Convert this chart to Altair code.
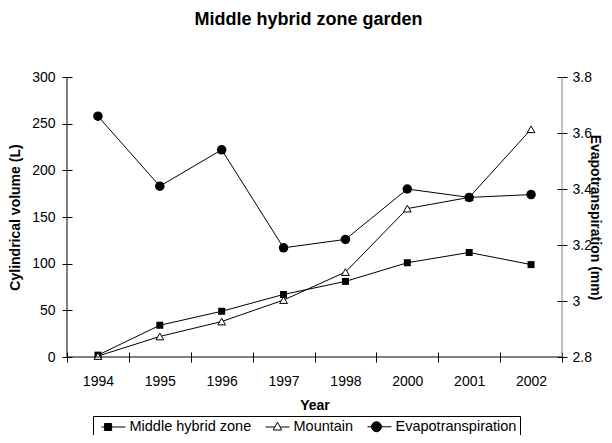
import altair as alt
import pandas as pd

years = ["1994", "1995", "1996", "1997", "1998", "2000", "2001", "2002"]
middle_hybrid = [2, 34, 49, 67, 81, 101, 112, 99]
mountain = [1, 22, 38, 61, 91, 159, 171, 244]
evapo = [3.66, 3.41, 3.54, 3.19, 3.22, 3.40, 3.37, 3.38]
series_names = ["Middle hybrid zone", "Mountain", "Evapotranspiration"]
left_ticks = [0, 50, 100, 150, 200, 250, 300]
right_ticks = [2.8, 3.0, 3.2, 3.4, 3.6, 3.8]

vol = pd.DataFrame({
    "year": years * 2,
    "series": [series_names[0]] * len(years) + [series_names[1]] * len(years),
    "value": middle_hybrid + mountain,
})
et = pd.DataFrame({"year": years, "series": series_names[2], "value": evapo})
allrows = pd.concat([vol, et], ignore_index=True)
one = pd.DataFrame({"k": [0]})

FONT = "Liberation Sans"
W, H = 495, 280

x_enc = alt.X(
    "year:N", sort=years, bandPosition=0.5,
    scale=alt.Scale(type="band", paddingInner=0, paddingOuter=0),
    axis=alt.Axis(title="Year", labelAngle=0, tickBand="extent", offset=-5,
                  domain=False, tickSize=10, tickColor="black", tickWidth=1,
                  labelPadding=12, labelFont=FONT, labelFontSize=14, labelColor="black",
                  titleFont=FONT, titleFontSize=14, titleFontWeight="bold",
                  titleColor="black", titlePadding=10),
)

base = alt.Chart(vol).encode(
    x=x_enc,
    y=alt.Y("value:Q", scale=alt.Scale(domain=[0, 300], nice=False),
            axis=alt.Axis(title="Cylindrical volume (L)", values=left_ticks, offset=-5,
                          domain=False, tickSize=10, tickColor="black", labelPadding=7,
                          labelFont=FONT, labelFontSize=14, labelColor="black",
                          titleFont=FONT, titleFontSize=14, titleFontWeight="bold",
                          titleColor="black", titlePadding=9)),
    detail="series:N",
)
vol_lines = base.mark_line(color="black", strokeWidth=1)
squares = base.transform_filter(alt.datum.series == series_names[0]).mark_point(
    shape="square", filled=True, color="black", size=49, opacity=1)
triangles = base.transform_filter(alt.datum.series == series_names[1]).mark_point(
    shape="triangle-up", filled=True, fill="white", stroke="black", strokeWidth=1,
    size=60, opacity=1)

paths = [
    "M-1.71,0H1.71M-1.27,-0.5H-0.27V0.5H-1.27Z",
    "M-1.71,0H-0.37M0.37,0H1.71M0,-0.69L0.6,0.43H-0.6Z",
    "M-1.71,0H1.71M-1.14,0A0.71,0.71,0,1,0,0.28,0A0.71,0.71,0,1,0,-1.14,0Z",
]
leg = alt.Legend(title=None, orient="none", legendX=26, legendY=339, direction="horizontal",
                 symbolSize=196, symbolOpacity=1, symbolStrokeWidth=1,
                 symbolStrokeColor="black", symbolOffset=10, labelOffset=8.5,
                 columnPadding=8, labelFont=FONT, labelFontSize=14.5, labelColor="black",
                 labelLimit=400, strokeColor="black", fillColor="white", padding=3,
                 cornerRadius=0)
legend_layer = alt.Chart(allrows).mark_point(
    filled=True, stroke="black", strokeWidth=1, opacity=0).encode(
    x=alt.value(0), y=alt.value(0),
    shape=alt.Shape("series:N", scale=alt.Scale(domain=series_names, range=paths), legend=leg),
    fill=alt.Fill("series:N", scale=alt.Scale(domain=series_names,
                                              range=["black", "white", "black"]), legend=leg),
    stroke=alt.Stroke("series:N", scale=alt.Scale(domain=series_names,
                                                  range=["black", "black", "black"]), legend=leg),
)

left_rule = alt.Chart(one).mark_rule(color="black", strokeWidth=1).encode(
    x=alt.value(0), y=alt.value(0), y2=alt.value(H))
bottom_rule = alt.Chart(one).mark_rule(color="black", strokeWidth=1).encode(
    x=alt.value(0), x2=alt.value(W), y=alt.value(H))
right_rule = alt.Chart(one).mark_rule(color="#808080", strokeWidth=1).encode(
    x=alt.value(W), y=alt.value(0), y2=alt.value(H))

left = alt.layer(vol_lines, squares, triangles, legend_layer, left_rule, bottom_rule, right_rule)

rbase = alt.Chart(et).encode(
    x=x_enc,
    y=alt.Y("value:Q", scale=alt.Scale(domain=[2.8, 3.8], nice=False, zero=False),
            axis=alt.Axis(title="Evapotranspiration (mm)", orient="right", values=right_ticks,
                          format=".1~f", offset=-5, domain=False, tickSize=10,
                          tickColor="black", labelPadding=5, labelFont=FONT,
                          labelFontSize=14, labelColor="black", titleFont=FONT,
                          titleFontSize=14, titleFontWeight="bold", titleColor="black",
                          titlePadding=-4)),
)
et_line = rbase.mark_line(color="black", strokeWidth=1)
circles = rbase.mark_point(shape="circle", filled=True, color="black", size=90, opacity=1)
right = alt.layer(et_line, circles)

chart = alt.layer(left, right).resolve_scale(y="independent").properties(
    width=W, height=H,
    title=alt.TitleParams("Middle hybrid zone garden", font=FONT, fontSize=18,
                          fontWeight="bold", color="black", anchor="middle", offset=41,
                          dx=-6),
    autosize=alt.AutoSizeParams(type="none"),
    padding={"left": 59, "top": 69, "right": 42, "bottom": 78},
).configure_view(stroke=None).configure_axis(grid=False)

chart.save("out.html", embed_options={"renderer": "svg", "actions": False})
